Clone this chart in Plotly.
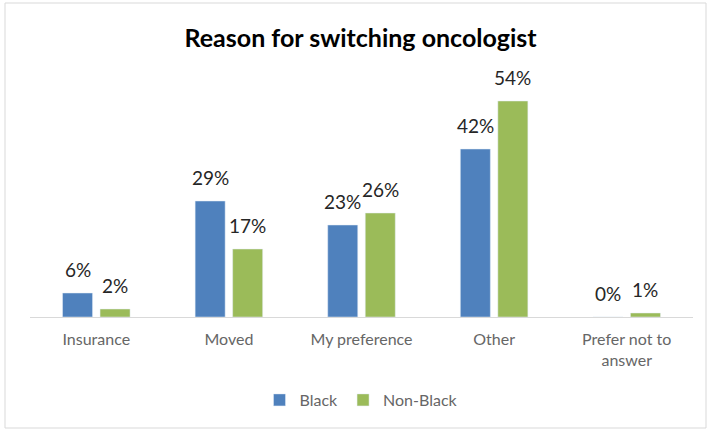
import plotly.graph_objects as go

categories = ["Insurance", "Moved", "My preference", "Other", "Prefer not to<br>answer"]
black = [6, 29, 23, 42, 0]
non_black = [2, 17, 26, 54, 1]

W, H = 707, 429
ml, mr, mt, mb = 30, 14, 77, 112
pw = W - ml - mr
ph = H - mt - mb
slot = pw / len(categories) * (1 - 0.434) / 2

fig = go.Figure()
fig.add_trace(go.Bar(x=categories, y=black, name="Black", marker_color="#4F81BD"))
fig.add_trace(go.Bar(x=categories, y=non_black, name="Non-Black", marker_color="#9BBB59"))

annotations = []
for vals, sign in ((black, -1), (non_black, 1)):
    for c, v in zip(categories, vals):
        annotations.append(dict(x=c, y=v, xref="x", yref="y", text=f"{v}%", showarrow=False,
                                xanchor="center", yanchor="bottom", xshift=sign * slot / 2, yshift=10,
                                font=dict(size=19, color="#262626")))

fig.update_layout(
    width=W, height=H,
    margin=dict(l=ml, r=mr, t=mt, b=mb),
    paper_bgcolor="white", plot_bgcolor="white",
    font=dict(family="Lato, Open Sans, sans-serif", color="#666666", size=16),
    title=dict(text="<b>Reason for switching oncologist</b>", x=0.51, xanchor="center",
               y=1 - 38 / H, yanchor="middle",
               font=dict(size=25, color="#000000")),
    barmode="group", bargap=0.434, bargroupgap=0.2,
    showlegend=True,
    legend=dict(orientation="h", x=0.5, xanchor="center", y=(317 - 400) / ph, yanchor="middle",
                font=dict(size=16, color="#666666"), itemwidth=30),
    xaxis=dict(showline=True, linecolor="#D9D9D9", linewidth=1, ticks="",
               tickfont=dict(size=16, color="#666666"), showgrid=False,
               ticklabelstandoff=8),
    yaxis=dict(range=[0, 60], visible=False, showgrid=False, zeroline=False),
    annotations=annotations,
    shapes=[dict(type="rect", xref="paper", yref="paper",
                 x0=(5 - ml) / pw, x1=(706 - ml) / pw,
                 y0=(317 - 428) / ph, y1=(317 - 3) / ph,
                 line=dict(color="#D9D9D9", width=1), fillcolor="rgba(0,0,0,0)", layer="below")],
)

fig.write_html("out.html", post_script="document.body.style.margin='0';",
               config={"displayModeBar": False})
